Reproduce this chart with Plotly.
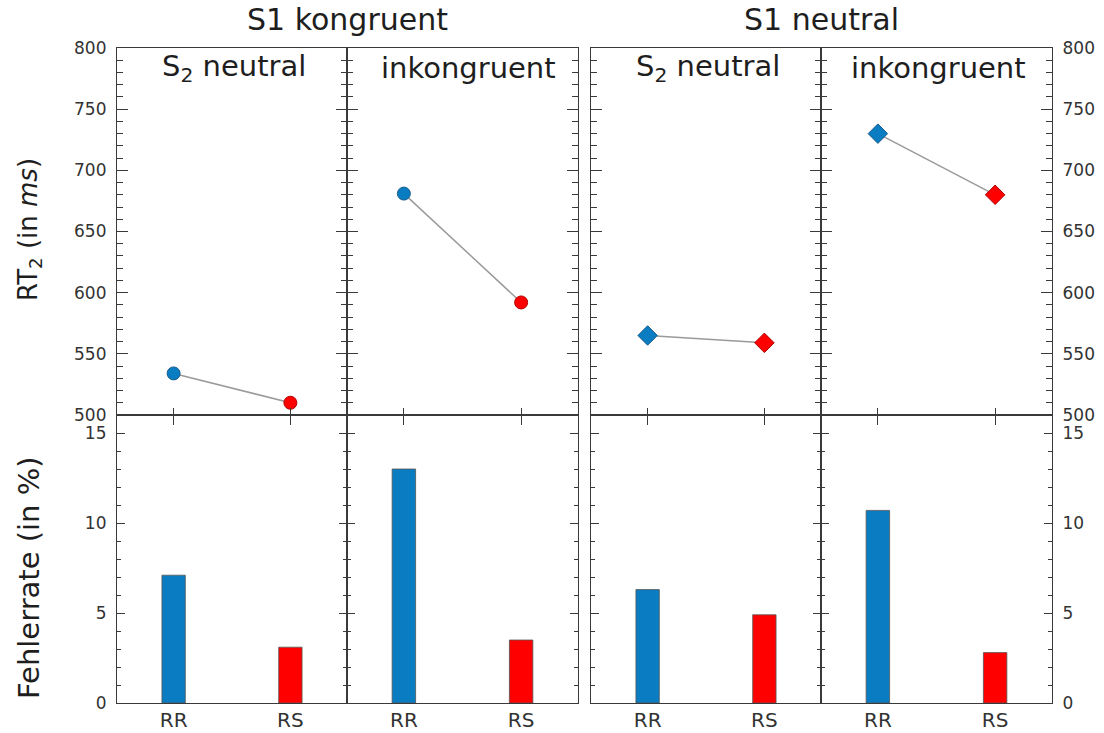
import plotly.graph_objects as go

W, H = 1104, 733

# Data
categories = ["RR", "RS"]
s1_labels = ["S1 kongruent", "S1 neutral"]
s2_labels = ["S<sub>2</sub> neutral", "inkongruent", "S<sub>2</sub> neutral", "inkongruent"]
rt_rr = [534, 681, 565, 730]
rt_rs = [510, 592, 559, 680]
err_rr = [7.1, 13.0, 6.3, 10.7]
err_rs = [3.1, 3.5, 4.9, 2.8]
marker_symbols = ["circle", "circle", "diamond", "diamond"]

BLUE = "#0a7cc1"
RED = "#ff0000"
AXIS = "#3a3a3a"
TEXT = "#333333"
LABEL = "#1e1e1e"
FONT = "DejaVu Sans"
LW = 1.2


def fx(x):
    return x / W


def fy(y):
    return 1 - y / H


# panel pixel edges
col_edges = [(117, 347), (347, 578), (591, 821), (821, 1052)]
top_y = (48, 415)
bot_y = (415, 703)
xrange_ = [-0.485, 1.485]

fig = go.Figure()

for i in range(4):
    xt, yt = f"x{i + 1}", f"y{i + 1}"
    xb, yb = f"x{i + 5}", f"y{i + 5}"
    fig.add_trace(go.Scatter(
        x=categories, y=[rt_rr[i], rt_rs[i]], xaxis=xt, yaxis=yt,
        mode="lines+markers",
        line=dict(color="#9a9a9a", width=1.5),
        marker=dict(symbol=marker_symbols[i], size=13 if i < 2 else 15,
                    color=[BLUE, RED],
                    line=dict(color=["#1b5f8c", "#b00000"], width=1)),
        showlegend=False, hoverinfo="skip",
    ))
    fig.add_trace(go.Bar(
        x=categories, y=[err_rr[i], err_rs[i]], xaxis=xb, yaxis=yb,
        width=0.2, marker=dict(color=[BLUE, RED], line=dict(color="#555555", width=0.8)),
        showlegend=False, hoverinfo="skip",
    ))

layout = dict(
    width=W, height=H, margin=dict(l=0, r=0, t=0, b=0, autoexpand=False),
    paper_bgcolor="white", plot_bgcolor="white",
    font=dict(family=FONT, color=TEXT),
)

for i in range(4):
    x0, x1 = col_edges[i]
    dom_x = [fx(x0), fx(x1)]
    side = "right" if i == 3 else "left"
    show_lab = i in (0, 3)
    common_y = dict(showline=True, linecolor=AXIS, linewidth=LW, mirror="allticks",
                    ticks="inside", tickcolor=AXIS, tickwidth=1.3,
                    showgrid=False, zeroline=False, side=side, automargin=False,
                    showticklabels=show_lab, ticklabelstandoff=6,
                    tickfont=dict(size=17, color=TEXT))
    # top row: reaction times
    layout[f"xaxis{i + 1}"] = dict(
        domain=dom_x, anchor=f"y{i + 1}", type="category", categoryarray=categories,
        range=xrange_, showline=True, linecolor=AXIS, linewidth=LW, mirror=True,
        ticks="inside", ticklen=7, tickcolor=AXIS, tickwidth=1.3, automargin=False,
        showticklabels=False, showgrid=False, zeroline=False,
    )
    layout[f"yaxis{i + 1}"] = dict(
        domain=[fy(top_y[1]), fy(top_y[0])], anchor=f"x{i + 1}",
        range=[500, 800], tickvals=[500, 550, 600, 650, 700, 750, 800],
        ticklen=11, minor=dict(dtick=10, tick0=500, ticks="inside", ticklen=6,
                               tickcolor=AXIS, tickwidth=1.1),
        **common_y,
    )
    # bottom row: error rates
    layout[f"xaxis{i + 5}"] = dict(
        domain=dom_x, anchor=f"y{i + 5}", type="category", categoryarray=categories,
        range=xrange_, showline=True, linecolor=AXIS, linewidth=LW, mirror="allticks",
        ticks="inside", ticklen=10, tickcolor=AXIS, tickwidth=1.3, layer="below traces",
        showticklabels=True, ticklabelstandoff=-1, tickfont=dict(size=20, color=TEXT),
        showgrid=False, zeroline=False, automargin=False,
    )
    layout[f"yaxis{i + 5}"] = dict(
        domain=[fy(bot_y[1]), fy(bot_y[0])], anchor=f"x{i + 5}",
        range=[0, 16], tickvals=[0, 5, 10, 15],
        ticklen=8, minor=dict(dtick=1, tick0=0, ticks="inside", ticklen=4,
                              tickcolor=AXIS, tickwidth=1.1),
        **common_y,
    )

annotations = []
# S1 group titles
for j, lab in enumerate(s1_labels):
    cx = (col_edges[2 * j][0] + col_edges[2 * j + 1][1]) / 2
    annotations.append(dict(x=fx(cx), y=fy(20), xref="paper", yref="paper",
                            text=lab, showarrow=False, font=dict(size=30, color=LABEL),
                            xanchor="center", yanchor="middle"))
# S2 panel labels
s2_centers = [234, 468, 708, 939]
for i, lab in enumerate(s2_labels):
    annotations.append(dict(x=fx(s2_centers[i]), y=fy(68), xref="paper", yref="paper",
                            text=lab, showarrow=False, font=dict(size=29, color=LABEL),
                            xanchor="center", yanchor="middle"))
# Y-axis titles
annotations.append(dict(x=fx(29), y=fy(230), xref="paper", yref="paper",
                        text="RT<sub>2</sub> (in <i>ms</i>)", textangle=-90, showarrow=False,
                        font=dict(size=26, color=LABEL), xanchor="center", yanchor="middle"))
annotations.append(dict(x=fx(29), y=fy(578), xref="paper", yref="paper",
                        text="Fehlerrate (in %)", textangle=-90, showarrow=False,
                        font=dict(size=29, color=LABEL), xanchor="center", yanchor="middle"))
layout["annotations"] = annotations

fig.update_layout(**layout)
fig.write_html("out.html")
